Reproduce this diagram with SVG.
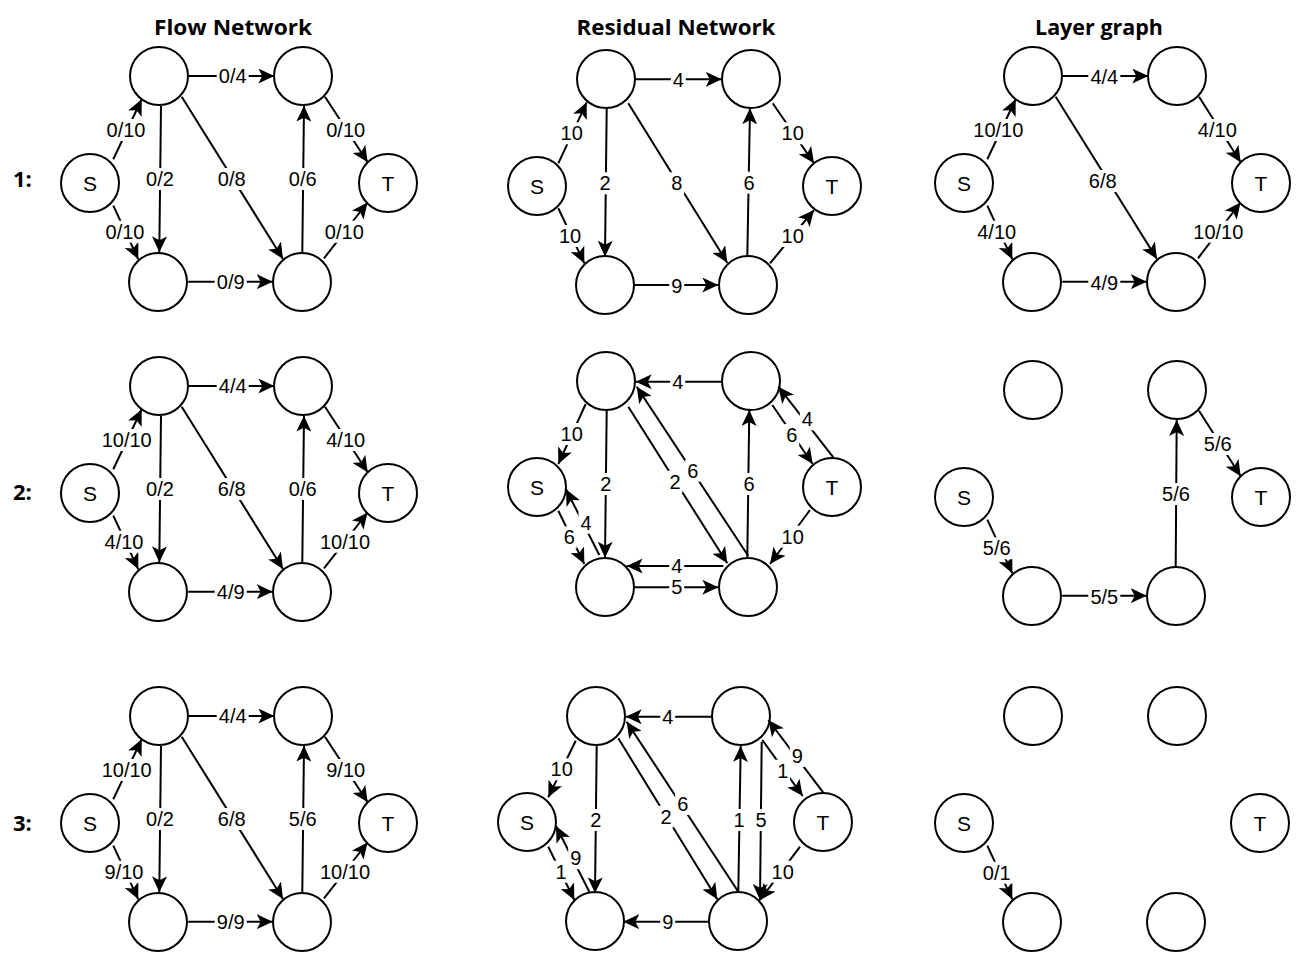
<svg xmlns="http://www.w3.org/2000/svg" width="1316" height="974" viewBox="0 0 1316 974">
<defs>
<style>
.n{fill:#fff;stroke:#000;stroke-width:2}
.e{fill:none;stroke:#000;stroke-width:2;marker-end:url(#ah)}
.lb{fill:#fff}
.t{font-family:"Liberation Sans",Arial,sans-serif;font-size:20px;text-anchor:middle;fill:#000}
.nt{font-family:"Liberation Sans",Arial,sans-serif;font-size:21px;text-anchor:middle;fill:#000}
.h{font-family:"Open Sans","DejaVu Sans",sans-serif;font-weight:bold;font-size:22px;text-anchor:middle;fill:#000}
.r{font-family:"Open Sans","DejaVu Sans",sans-serif;font-weight:bold;font-size:22px;fill:#000}
</style>
<marker id="ah" markerUnits="userSpaceOnUse" markerWidth="17" markerHeight="15" viewBox="0 0 17 15" refX="16" refY="7.5" orient="auto">
<path d="M16,7.5 L0,0 L4,7.5 L0,15 Z" fill="#000"/>
</marker>
</defs>
<rect width="1316" height="974" fill="#fff"/>

<g id="titles">
<text class="h" x="233" y="34.5" textLength="158" lengthAdjust="spacingAndGlyphs">Flow Network</text>
<text class="h" x="676" y="34.5" textLength="199" lengthAdjust="spacingAndGlyphs">Residual Network</text>
<text class="h" x="1099" y="34.5" textLength="128" lengthAdjust="spacingAndGlyphs">Layer graph</text>
<text class="r" x="13" y="186.5">1:</text>
<text class="r" x="13" y="500">2:</text>
<text class="r" x="13" y="830.5">3:</text>
</g>

<!-- ===== Flow network row 1 ===== -->
<g id="flow1">
<g id="f1-nodes">
<g id="f1-a"><circle class="n" cx="159" cy="76" r="29"/></g>
<g id="f1-b"><circle class="n" cx="303" cy="76" r="29"/></g>
<g id="f1-s"><circle class="n" cx="90" cy="183" r="29"/><text class="nt" x="90" y="190.5">S</text></g>
<g id="f1-t"><circle class="n" cx="388" cy="183" r="29"/><text class="nt" x="388" y="190.5">T</text></g>
<g id="f1-c"><circle class="n" cx="158" cy="282" r="29"/></g>
<g id="f1-d"><circle class="n" cx="302" cy="282" r="29"/></g>
</g>
<g id="f1-connectors">
<path class="e" d="M113.3,159.3 L141.7,99.3"/>
<path class="e" d="M113.3,205.7 L138.3,259.3"/>
<path class="e" d="M161,105.7 L159.3,252.3"/>
<path class="e" d="M181.7,96.7 L283,259"/>
<path class="e" d="M302.3,252.3 L304,105.7"/>
<path class="e" d="M325,96.7 L367.7,162.3"/>
<path class="e" d="M324,258.3 L367.5,202.5"/>
<path class="e" d="M189,76 L274.3,76"/>
<path class="e" d="M188.3,281.7 L272.7,281.7"/>
<g id="f1-labels">
<rect class="lb" x="104.5" y="119" width="43" height="22"/><text class="t" x="126" y="137">0/10</text>
<rect class="lb" x="103.5" y="220.7" width="43" height="22"/><text class="t" x="125" y="238.7">0/10</text>
<rect class="lb" x="144" y="168" width="32" height="22"/><text class="t" x="160" y="186">0/2</text>
<rect class="lb" x="215.7" y="168" width="32" height="22"/><text class="t" x="231.7" y="186">0/8</text>
<rect class="lb" x="286.7" y="168" width="32" height="22"/><text class="t" x="302.7" y="186">0/6</text>
<rect class="lb" x="324.2" y="119" width="43" height="22"/><text class="t" x="345.7" y="137">0/10</text>
<rect class="lb" x="322.8" y="220.7" width="43" height="22"/><text class="t" x="344.3" y="238.7">0/10</text>
<rect class="lb" x="216.7" y="65" width="32" height="22"/><text class="t" x="232.7" y="83">0/4</text>
<rect class="lb" x="214.7" y="270.7" width="32" height="22"/><text class="t" x="230.7" y="288.7">0/9</text>
</g>
</g>
</g>

<!-- ===== Flow network row 2 ===== -->
<g id="flow2" transform="translate(0,310)">
<g id="f2-nodes">
<g id="f2-a"><circle class="n" cx="159" cy="76" r="29"/></g>
<g id="f2-b"><circle class="n" cx="303" cy="76" r="29"/></g>
<g id="f2-s"><circle class="n" cx="90" cy="183" r="29"/><text class="nt" x="90" y="190.5">S</text></g>
<g id="f2-t"><circle class="n" cx="388" cy="183" r="29"/><text class="nt" x="388" y="190.5">T</text></g>
<g id="f2-c"><circle class="n" cx="158" cy="282" r="29"/></g>
<g id="f2-d"><circle class="n" cx="302" cy="282" r="29"/></g>
</g>
<g id="f2-connectors">
<path class="e" d="M113.3,159.3 L141.7,99.3"/>
<path class="e" d="M113.3,205.7 L138.3,259.3"/>
<path class="e" d="M161,105.7 L159.3,252.3"/>
<path class="e" d="M181.7,96.7 L283,259"/>
<path class="e" d="M302.3,252.3 L304,105.7"/>
<path class="e" d="M325,96.7 L367.7,162.3"/>
<path class="e" d="M324,258.3 L367.5,202.5"/>
<path class="e" d="M189,76 L274.3,76"/>
<path class="e" d="M188.3,281.7 L272.7,281.7"/>
<g id="f2-labels">
<rect class="lb" x="99.7" y="119" width="54" height="22"/><text class="t" x="126.7" y="137">10/10</text>
<rect class="lb" x="102.5" y="220.7" width="43" height="22"/><text class="t" x="124" y="238.7">4/10</text>
<rect class="lb" x="144" y="168" width="32" height="22"/><text class="t" x="160" y="186">0/2</text>
<rect class="lb" x="215.7" y="168" width="32" height="22"/><text class="t" x="231.7" y="186">6/8</text>
<rect class="lb" x="286.7" y="168" width="32" height="22"/><text class="t" x="302.7" y="186">0/6</text>
<rect class="lb" x="324.2" y="119" width="43" height="22"/><text class="t" x="345.7" y="137">4/10</text>
<rect class="lb" x="318" y="220.7" width="54" height="22"/><text class="t" x="345" y="238.7">10/10</text>
<rect class="lb" x="216.7" y="65" width="32" height="22"/><text class="t" x="232.7" y="83">4/4</text>
<rect class="lb" x="214.7" y="270.7" width="32" height="22"/><text class="t" x="230.7" y="288.7">4/9</text>
</g>
</g>
</g>

<!-- ===== Flow network row 3 ===== -->
<g id="flow3" transform="translate(0,640)">
<g id="f3-nodes">
<g id="f3-a"><circle class="n" cx="159" cy="76" r="29"/></g>
<g id="f3-b"><circle class="n" cx="303" cy="76" r="29"/></g>
<g id="f3-s"><circle class="n" cx="90" cy="183" r="29"/><text class="nt" x="90" y="190.5">S</text></g>
<g id="f3-t"><circle class="n" cx="388" cy="183" r="29"/><text class="nt" x="388" y="190.5">T</text></g>
<g id="f3-c"><circle class="n" cx="158" cy="282" r="29"/></g>
<g id="f3-d"><circle class="n" cx="302" cy="282" r="29"/></g>
</g>
<g id="f3-connectors">
<path class="e" d="M113.3,159.3 L141.7,99.3"/>
<path class="e" d="M113.3,205.7 L138.3,259.3"/>
<path class="e" d="M161,105.7 L159.3,252.3"/>
<path class="e" d="M181.7,96.7 L283,259"/>
<path class="e" d="M302.3,252.3 L304,105.7"/>
<path class="e" d="M325,96.7 L367.7,162.3"/>
<path class="e" d="M324,258.3 L367.5,202.5"/>
<path class="e" d="M189,76 L274.3,76"/>
<path class="e" d="M188.3,281.7 L272.7,281.7"/>
<g id="f3-labels">
<rect class="lb" x="99.7" y="119" width="54" height="22"/><text class="t" x="126.7" y="137">10/10</text>
<rect class="lb" x="102.5" y="220.7" width="43" height="22"/><text class="t" x="124" y="238.7">9/10</text>
<rect class="lb" x="144" y="168" width="32" height="22"/><text class="t" x="160" y="186">0/2</text>
<rect class="lb" x="215.7" y="168" width="32" height="22"/><text class="t" x="231.7" y="186">6/8</text>
<rect class="lb" x="286.7" y="168" width="32" height="22"/><text class="t" x="302.7" y="186">5/6</text>
<rect class="lb" x="324.2" y="119" width="43" height="22"/><text class="t" x="345.7" y="137">9/10</text>
<rect class="lb" x="318" y="220.7" width="54" height="22"/><text class="t" x="345" y="238.7">10/10</text>
<rect class="lb" x="216.7" y="65" width="32" height="22"/><text class="t" x="232.7" y="83">4/4</text>
<rect class="lb" x="214.7" y="270.7" width="32" height="22"/><text class="t" x="230.7" y="288.7">9/9</text>
</g>
</g>
</g>

<!-- ===== Residual row 1 ===== -->
<g id="res1">
<g id="r1-nodes">
<g id="r1-a"><circle class="n" cx="606" cy="79" r="29"/></g>
<g id="r1-b"><circle class="n" cx="751" cy="79" r="29"/></g>
<g id="r1-s"><circle class="n" cx="537" cy="186" r="29"/><text class="nt" x="537" y="193.5">S</text></g>
<g id="r1-t"><circle class="n" cx="832" cy="186" r="29"/><text class="nt" x="832" y="193.5">T</text></g>
<g id="r1-c"><circle class="n" cx="605" cy="285" r="29"/></g>
<g id="r1-d"><circle class="n" cx="748" cy="285" r="29"/></g>
</g>
<g id="r1-connectors">
<path class="e" d="M558.3,163.3 L586.7,102.3"/>
<path class="e" d="M558.3,208.3 L584.3,263.3"/>
<path class="e" d="M606.7,108.3 L605,256.7"/>
<path class="e" d="M628.3,103.3 L727.3,262.7"/>
<path class="e" d="M747.3,256.7 L750,108.3"/>
<path class="e" d="M772.7,103.3 L814,163.3"/>
<path class="e" d="M770,263.3 L814,210"/>
<path class="e" d="M635.7,79.3 L721.7,79.3"/>
<path class="e" d="M634,285 L718.3,285"/>
<g id="r1-labels">
<rect class="lb" x="558.7" y="122.3" width="26" height="22"/><text class="t" x="571.7" y="140.3">10</text>
<rect class="lb" x="557" y="225" width="26" height="22"/><text class="t" x="570" y="243">10</text>
<rect class="lb" x="597.5" y="172.3" width="15" height="22"/><text class="t" x="605" y="190.3">2</text>
<rect class="lb" x="669.2" y="172.3" width="15" height="22"/><text class="t" x="676.7" y="190.3">8</text>
<rect class="lb" x="741.5" y="171.7" width="15" height="22"/><text class="t" x="749" y="189.7">6</text>
<rect class="lb" x="779.7" y="122.3" width="26" height="22"/><text class="t" x="792.7" y="140.3">10</text>
<rect class="lb" x="779.7" y="225" width="26" height="22"/><text class="t" x="792.7" y="243">10</text>
<rect class="lb" x="670.8" y="68.5" width="15" height="22"/><text class="t" x="678.3" y="86.5">4</text>
<rect class="lb" x="669.2" y="274.5" width="15" height="22"/><text class="t" x="676.7" y="292.5">9</text>
</g>
</g>
</g>

<!-- ===== Residual row 2 ===== -->
<g id="res2">
<g id="r2-nodes">
<g id="r2-a"><circle class="n" cx="606" cy="381" r="29"/></g>
<g id="r2-b"><circle class="n" cx="751" cy="381" r="29"/></g>
<g id="r2-s"><circle class="n" cx="537" cy="487" r="29"/><text class="nt" x="537" y="494.5">S</text></g>
<g id="r2-t"><circle class="n" cx="832" cy="487" r="29"/><text class="nt" x="832" y="494.5">T</text></g>
<g id="r2-c"><circle class="n" cx="605" cy="587" r="29"/></g>
<g id="r2-d"><circle class="n" cx="748" cy="587" r="29"/></g>
</g>
<g id="r2-connectors">
<path class="e" d="M721.7,381.7 L635.7,381.7"/>
<path class="e" d="M585.7,404 L558.3,464"/>
<path class="e" d="M606.7,410.7 L605,557.7"/>
<path class="e" d="M628.3,406.7 L727.3,563.3"/>
<path class="e" d="M748.3,556 L636.7,386.7"/>
<path class="e" d="M747.3,557.3 L749.3,410"/>
<path class="e" d="M772.3,405 L812.7,464"/>
<path class="e" d="M833.3,457.3 L778.3,386.7"/>
<path class="e" d="M810,510 L770,564"/>
<path class="e" d="M558.3,510.7 L584.3,564"/>
<path class="e" d="M599.3,555 L566,489.3"/>
<path class="e" d="M723.3,566 L626.7,566"/>
<path class="e" d="M634,587.3 L718.3,587.3"/>
<g id="r2-labels">
<rect class="lb" x="670.2" y="370.7" width="15" height="22"/><text class="t" x="677.7" y="388.7">4</text>
<rect class="lb" x="558.7" y="423" width="26" height="22"/><text class="t" x="571.7" y="441">10</text>
<rect class="lb" x="598.2" y="473" width="15" height="22"/><text class="t" x="605.7" y="491">2</text>
<rect class="lb" x="667.5" y="470.7" width="15" height="22"/><text class="t" x="675" y="488.7">2</text>
<rect class="lb" x="685.2" y="459.7" width="15" height="22"/><text class="t" x="692.7" y="477.7">6</text>
<rect class="lb" x="741.5" y="473" width="15" height="22"/><text class="t" x="749" y="491">6</text>
<rect class="lb" x="784.2" y="424" width="15" height="22"/><text class="t" x="791.7" y="442">6</text>
<rect class="lb" x="799.8" y="408.3" width="15" height="22"/><text class="t" x="807.3" y="426.3">4</text>
<rect class="lb" x="779.7" y="525.7" width="26" height="22"/><text class="t" x="792.7" y="543.7">10</text>
<rect class="lb" x="561.8" y="526.3" width="15" height="22"/><text class="t" x="569.3" y="544.3">6</text>
<rect class="lb" x="578.5" y="511.7" width="15" height="22"/><text class="t" x="586" y="529.7">4</text>
<rect class="lb" x="669.2" y="556" width="15" height="20"/><text class="t" x="676.7" y="573">4</text>
<rect class="lb" x="669.2" y="577.3" width="15" height="20"/><text class="t" x="676.7" y="594.3">5</text>
</g>
</g>
</g>

<!-- ===== Residual row 3 ===== -->
<g id="res3">
<g id="r3-nodes">
<g id="r3-a"><circle class="n" cx="596" cy="716" r="29"/></g>
<g id="r3-b"><circle class="n" cx="741" cy="716" r="29"/></g>
<g id="r3-s"><circle class="n" cx="527" cy="822" r="29"/><text class="nt" x="527" y="829.5">S</text></g>
<g id="r3-t"><circle class="n" cx="823" cy="822" r="29"/><text class="nt" x="823" y="829.5">T</text></g>
<g id="r3-c"><circle class="n" cx="595" cy="921" r="29"/></g>
<g id="r3-d"><circle class="n" cx="738" cy="921" r="29"/></g>
</g>
<g id="r3-connectors">
<path class="e" d="M711.7,716.7 L625.7,716.7"/>
<path class="e" d="M738.3,891.7 L626.7,721.7"/>
<path class="e" d="M618.3,738.3 L717.3,899.3"/>
<path class="e" d="M575.7,740.7 L548.3,797.3"/>
<path class="e" d="M596.7,746 L595,893.3"/>
<path class="e" d="M548.3,846.7 L574.3,900"/>
<path class="e" d="M589.3,891.7 L556,826"/>
<path class="e" d="M709.3,921.7 L623.3,921.7"/>
<path class="e" d="M738.3,891.7 L740.7,746"/>
<path class="e" d="M761.7,741.7 L760,900"/>
<path class="e" d="M762.3,740 L802.7,796"/>
<path class="e" d="M823.3,792.7 L768.3,720"/>
<path class="e" d="M800,846.7 L760,900"/>
<g id="r3-labels">
<rect class="lb" x="660.2" y="706" width="15" height="22"/><text class="t" x="667.7" y="724">4</text>
<rect class="lb" x="675.2" y="793" width="15" height="22"/><text class="t" x="682.7" y="811">6</text>
<rect class="lb" x="658.5" y="805.7" width="15" height="22"/><text class="t" x="666" y="823.7">2</text>
<rect class="lb" x="548.7" y="758.3" width="26" height="22"/><text class="t" x="561.7" y="776.3">10</text>
<rect class="lb" x="588.2" y="809" width="15" height="22"/><text class="t" x="595.7" y="827">2</text>
<rect class="lb" x="553.5" y="860.7" width="15" height="22"/><text class="t" x="561" y="878.7">1</text>
<rect class="lb" x="568.2" y="847.3" width="15" height="22"/><text class="t" x="575.7" y="865.3">9</text>
<rect class="lb" x="660.2" y="911" width="15" height="22"/><text class="t" x="667.7" y="929">9</text>
<rect class="lb" x="731.5" y="809" width="15" height="22"/><text class="t" x="739" y="827">1</text>
<rect class="lb" x="753.5" y="809" width="15" height="22"/><text class="t" x="761" y="827">5</text>
<rect class="lb" x="775.2" y="759.7" width="15" height="22"/><text class="t" x="782.7" y="777.7">1</text>
<rect class="lb" x="789.8" y="745" width="15" height="22"/><text class="t" x="797.3" y="763">9</text>
<rect class="lb" x="769.7" y="860.7" width="26" height="22"/><text class="t" x="782.7" y="878.7">10</text>
</g>
</g>
</g>

<!-- ===== Layer graph row 1 ===== -->
<g id="layer1" transform="translate(874,0)">
<g id="l1-nodes">
<g id="l1-a"><circle class="n" cx="159" cy="76" r="29"/></g>
<g id="l1-b"><circle class="n" cx="303" cy="76" r="29"/></g>
<g id="l1-s"><circle class="n" cx="90" cy="183" r="29"/><text class="nt" x="90" y="190.5">S</text></g>
<g id="l1-t"><circle class="n" cx="387" cy="183" r="29"/><text class="nt" x="387" y="190.5">T</text></g>
<g id="l1-c"><circle class="n" cx="158" cy="282" r="29"/></g>
<g id="l1-d"><circle class="n" cx="302" cy="282" r="29"/></g>
</g>
<g id="l1-connectors">
<path class="e" d="M113.3,159.3 L141.7,99.3"/>
<path class="e" d="M113.3,205.7 L138.3,259.3"/>
<path class="e" d="M181.7,96.7 L283,259"/>
<path class="e" d="M325,96.7 L366.7,162.3"/>
<path class="e" d="M324,258.3 L366.5,202.5"/>
<path class="e" d="M189,76 L274.3,76"/>
<path class="e" d="M188.3,281.7 L272.7,281.7"/>
<g id="l1-labels">
<rect class="lb" x="97.3" y="119" width="54" height="22"/><text class="t" x="124.3" y="137">10/10</text>
<rect class="lb" x="101.2" y="220.7" width="43" height="22"/><text class="t" x="122.7" y="238.7">4/10</text>
<rect class="lb" x="212.7" y="170" width="32" height="22"/><text class="t" x="228.7" y="188">6/8</text>
<rect class="lb" x="321.8" y="119" width="43" height="22"/><text class="t" x="343.3" y="137">4/10</text>
<rect class="lb" x="317.3" y="220.7" width="54" height="22"/><text class="t" x="344.3" y="238.7">10/10</text>
<rect class="lb" x="214.3" y="65.7" width="32" height="22"/><text class="t" x="230.3" y="83.7">4/4</text>
<rect class="lb" x="214.3" y="272" width="32" height="22"/><text class="t" x="230.3" y="290">4/9</text>
</g>
</g>
</g>

<!-- ===== Layer graph row 2 ===== -->
<g id="layer2" transform="translate(874,314)">
<g id="l2-nodes">
<g id="l2-a"><circle class="n" cx="159" cy="76" r="29"/></g>
<g id="l2-b"><circle class="n" cx="303" cy="76" r="29"/></g>
<g id="l2-s"><circle class="n" cx="90" cy="183" r="29"/><text class="nt" x="90" y="190.5">S</text></g>
<g id="l2-t"><circle class="n" cx="387" cy="183" r="29"/><text class="nt" x="387" y="190.5">T</text></g>
<g id="l2-c"><circle class="n" cx="158" cy="282" r="29"/></g>
<g id="l2-d"><circle class="n" cx="302" cy="282" r="29"/></g>
</g>
<g id="l2-connectors">
<path class="e" d="M113.3,205.7 L138.3,259.3"/>
<path class="e" d="M301.7,252.7 L302.7,106"/>
<path class="e" d="M325,96.7 L366.7,162.3"/>
<path class="e" d="M188.3,281.7 L272.7,281.7"/>
<g id="l2-labels">
<rect class="lb" x="106.7" y="223.3" width="32" height="22"/><text class="t" x="122.7" y="241.3">5/6</text>
<rect class="lb" x="286" y="169" width="32" height="22"/><text class="t" x="302" y="187">5/6</text>
<rect class="lb" x="327.7" y="119" width="32" height="22"/><text class="t" x="343.7" y="137">5/6</text>
<rect class="lb" x="214.3" y="271.7" width="32" height="22"/><text class="t" x="230.3" y="289.7">5/5</text>
</g>
</g>
</g>

<!-- ===== Layer graph row 3 ===== -->
<g id="layer3" transform="translate(874,640)">
<g id="l3-nodes">
<g id="l3-a"><circle class="n" cx="159" cy="76" r="29"/></g>
<g id="l3-b"><circle class="n" cx="303" cy="76" r="29"/></g>
<g id="l3-s"><circle class="n" cx="90" cy="183" r="29"/><text class="nt" x="90" y="190.5">S</text></g>
<g id="l3-t"><circle class="n" cx="386" cy="183" r="29"/><text class="nt" x="386" y="190.5">T</text></g>
<g id="l3-c"><circle class="n" cx="158" cy="282" r="29"/></g>
<g id="l3-d"><circle class="n" cx="302" cy="282" r="29"/></g>
</g>
<g id="l3-connectors">
<path class="e" d="M113.3,205.7 L138.3,259.3"/>
<g id="l3-labels">
<rect class="lb" x="106.7" y="221.7" width="32" height="22"/><text class="t" x="122.7" y="239.7">0/1</text>
</g>
</g>
</g>
</svg>
